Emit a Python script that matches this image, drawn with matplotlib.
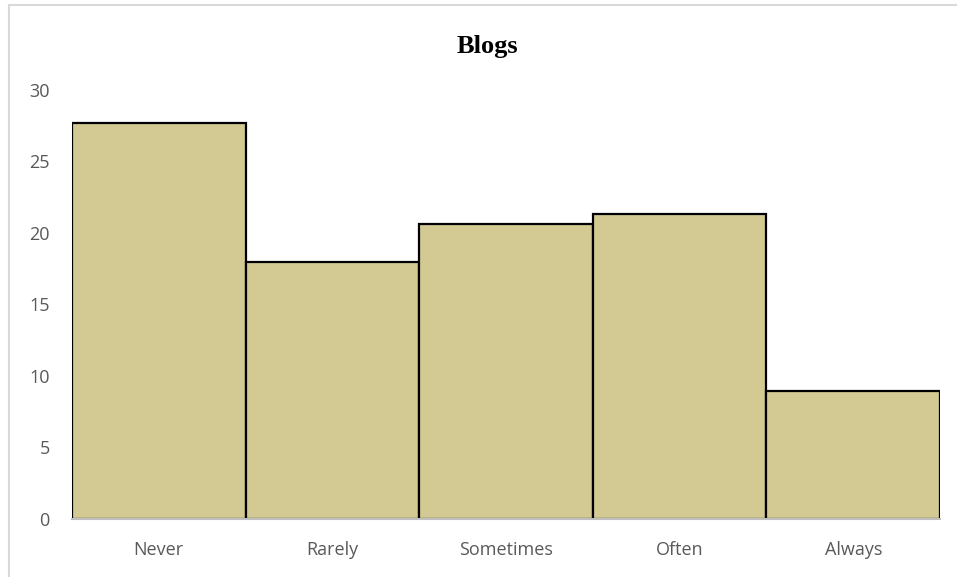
import matplotlib
matplotlib.use("Agg")
import matplotlib.pyplot as plt
from matplotlib.lines import Line2D

# Values
categories = ['Never', 'Rarely', 'Sometimes', 'Often', 'Always']
counts = [27.7, 18.0, 20.6, 21.3, 8.95]
y_ticks = [0, 5, 10, 15, 20, 25, 30]

fig = plt.figure(figsize=(9.57, 5.77), dpi=100)
ax = fig.add_axes([72 / 957, 1 - 519 / 577, (940 - 72) / 957, (519 - 90) / 577])

ax.bar(categories, counts, width=1.0, color='#D2C993', edgecolor='black', linewidth=1.6, zorder=2)

ax.set_xlim(-0.5, len(categories) - 0.5)
ax.set_ylim(0, 30)
ax.set_yticks(y_ticks)

for s in ['top', 'right', 'left']:
    ax.spines[s].set_visible(False)
ax.spines['bottom'].set_color('#BFBFBF')
ax.spines['bottom'].set_linewidth(1.5)
ax.spines['bottom'].set_zorder(3)

ax.tick_params(axis='both', length=0, labelsize=13, labelcolor='#595959')
ax.tick_params(axis='y', pad=16)
ax.tick_params(axis='x', pad=16)
for lbl in ax.get_xticklabels() + ax.get_yticklabels():
    lbl.set_fontfamily('Open Sans')

fig.text(487 / 957, 1 - 46 / 577, 'Blogs', ha='center', va='center',
         fontsize=19, fontweight='bold', fontfamily='Liberation Serif')

# light frame of the chart area (top and left edges)
fig.add_artist(Line2D([9 / 957, 1], [1 - 5 / 577, 1 - 5 / 577], color='#D9D9D9', lw=1.5))
fig.add_artist(Line2D([9 / 957, 9 / 957], [0, 1 - 5 / 577], color='#D9D9D9', lw=1.5))

fig.savefig('out.png', dpi=100)
